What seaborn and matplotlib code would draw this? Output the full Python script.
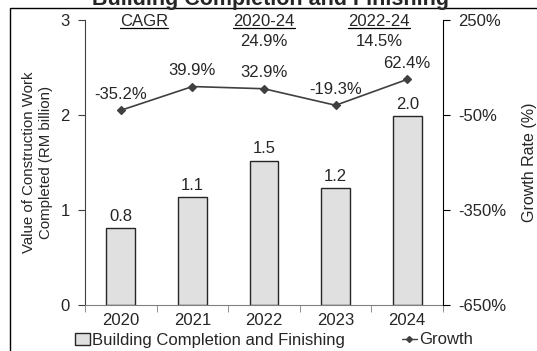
import matplotlib
matplotlib.use("Agg")
import matplotlib.pyplot as plt
import matplotlib.patches as mpatches
from matplotlib.lines import Line2D
import seaborn as sns
import pandas as pd

# chart data
years = ["2020", "2021", "2022", "2023", "2024"]
value_rm_bn = [0.81, 1.14, 1.52, 1.23, 1.99]
growth_pct = [-35.2, 39.9, 32.9, -19.3, 62.4]
cagr_periods = ["2020-24", "2022-24"]
cagr_values = ["24.9%", "14.5%"]
left_ticks = [0, 1, 2, 3]
right_ticks = [-650, -350, -50, 250]

sns.set_style("white")
plt.rcParams["font.family"] = ["Liberation Sans", "DejaVu Sans"]
plt.rcParams["font.size"] = 12

df = pd.DataFrame({"year": years, "value": value_rm_bn, "growth": growth_pct})

fig = plt.figure(figsize=(5.37, 3.51), dpi=100)
ax = fig.add_axes([85 / 537, 1 - 305 / 351, 358 / 537, 285 / 351])

# bars
sns.barplot(data=df, x="year", y="value", ax=ax, color="#e0e0e0",
            edgecolor="#262626", linewidth=1.0, width=0.4, saturation=1)
ax.bar_label(ax.containers[0], fmt="%.1f", padding=3, fontsize=12)
ax.set_ylim(0, 3)
ax.set_yticks(left_ticks)
ax.set_xlabel("")
ax.set_ylabel("Value of Construction Work\nCompleted (RM billion)", fontsize=10.8,
              labelpad=5, linespacing=1.3)

# growth line on the right axis
ax2 = ax.twinx()
sns.pointplot(data=df, x="year", y="growth", ax=ax2, color="#404040",
              markers="D", markersize=4, linewidth=1.2)
for i, g in enumerate(growth_pct):
    ax2.annotate(f"{g:.1f}%", (i, g), xytext=(0, 11.5), textcoords="offset points",
                 ha="center", va="center", fontsize=12)
ax2.set_ylim(-650, 250)
ax2.set_yticks(right_ticks)
ax2.set_yticklabels([f"{t}%" for t in right_ticks])
ax2.set_ylabel("Growth Rate (%)", fontsize=11.5, labelpad=11)
ax2.set_xlabel("")
ax.set_xlim(-0.5, len(years) - 0.5)
ax2.set_xlim(-0.5, len(years) - 0.5)

# spines and ticks
for a in (ax, ax2):
    a.spines["top"].set_visible(False)
    a.spines["bottom"].set_color("#808080")
ax.spines["right"].set_visible(False)
ax.spines["left"].set_color("#404040")
ax2.spines["left"].set_visible(False)
ax2.spines["bottom"].set_visible(False)
ax2.spines["right"].set_color("#000000")
ax.tick_params(axis="y", left=True, direction="out", length=5, color="#404040",
               labelsize=12, pad=6)
ax2.tick_params(axis="y", right=True, direction="out", length=5, color="#000000",
                labelsize=12, pad=6)
ax.set_xticks(range(len(years)))
ax.set_xticks([i - 0.5 for i in range(len(years) + 1)], minor=True)
ax.tick_params(axis="x", which="major", length=0, labelsize=12, pad=6)
ax.tick_params(axis="x", which="minor", bottom=True, length=5, color="#808080",
               direction="out")

# CAGR header texts
headers = []
headers.append(ax.text(0.165, 0.993, "CAGR", transform=ax.transAxes,
                       ha="center", va="center", fontsize=12))
for xpos, period, val in zip([0.5, 0.821], cagr_periods, cagr_values):
    headers.append(ax.text(xpos, 0.993, period, transform=ax.transAxes,
                           ha="center", va="center", fontsize=12))
    ax.text(xpos, 0.923, val, transform=ax.transAxes, ha="center", va="center",
            fontsize=12)

# legend
handles = [mpatches.Patch(facecolor="#e0e0e0", edgecolor="#262626", linewidth=1.0),
           Line2D([], [], color="#404040", marker="D", markersize=3, linewidth=1.0)]
fig.legend(handles, ["Building Completion and Finishing", "Growth"], loc="center",
           bbox_to_anchor=(274 / 537, 1 - 340 / 351), ncol=2, frameon=False,
           handlelength=0.9, handleheight=0.7, handletextpad=0.15,
           columnspacing=3.4, fontsize=12, borderaxespad=0, borderpad=0)

# title and outer frame
fig.text(270 / 537, 1 - 5 / 351, "Building Completion and Finishing",
         ha="center", va="baseline", fontsize=15.5, fontweight="bold")
frame = mpatches.Rectangle((10 / 537, -0.5), 2, 1 - 8 / 351 + 0.5,
                           transform=fig.transFigure, fill=False,
                           edgecolor="#000000", linewidth=1.0)
fig.add_artist(frame)

# underline header texts
fig.canvas.draw()
renderer = fig.canvas.get_renderer()
inv = fig.transFigure.inverted()
for t in headers:
    bb = t.get_window_extent(renderer)
    (x0, y0), (x1, _) = inv.transform([(bb.x0, bb.y0 + 1), (bb.x1, bb.y0 + 1)])
    fig.add_artist(Line2D([x0, x1], [y0, y0], transform=fig.transFigure,
                          color="#000000", linewidth=0.9))

fig.savefig("out.png", dpi=100)
